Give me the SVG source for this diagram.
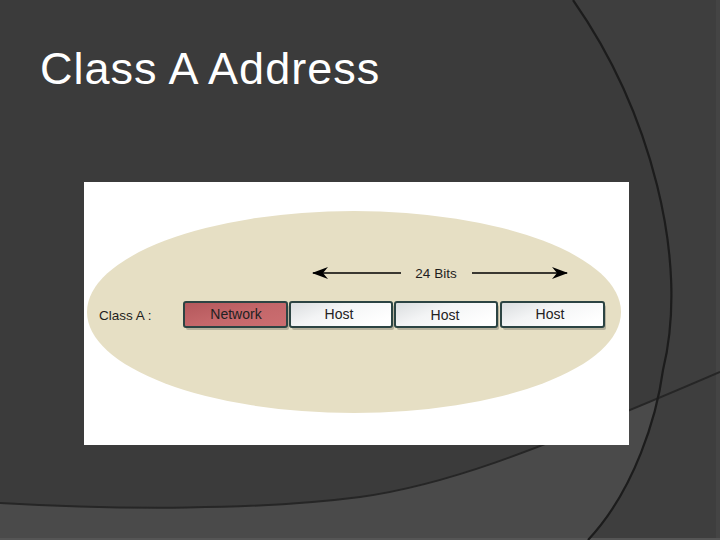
<svg xmlns="http://www.w3.org/2000/svg" width="720" height="540" viewBox="0 0 720 540">
<style>
.title{font-family:"Liberation Sans",Arial,sans-serif;font-size:45px;letter-spacing:1px;fill:#ffffff}
.lbl{font-family:"Liberation Sans",Arial,sans-serif;font-size:13.5px;fill:#1e1e1e}
.box{font-family:"Liberation Sans",Arial,sans-serif;font-size:14px;fill:#222}
.bx{stroke:#2c4443;stroke-width:2}
.sh{fill:#7d7a6c;opacity:0.45}
.arr{stroke:#000;stroke-width:1.6;fill:none}
</style>
<defs>
<linearGradient id="gNet" x1="0" y1="0" x2="1" y2="1">
<stop offset="0" stop-color="#b3575b"/>
<stop offset="0.5" stop-color="#c4676a"/>
<stop offset="1" stop-color="#cc6e71"/>
</linearGradient>
<linearGradient id="gHost" x1="0" y1="0" x2="1" y2="0.6">
<stop offset="0" stop-color="#d9dcde"/>
<stop offset="0.45" stop-color="#f3f4f5"/>
<stop offset="1" stop-color="#ffffff"/>
</linearGradient>
<marker id="ah" viewBox="0 0 16 12" markerWidth="16" markerHeight="12" refX="15" refY="6" orient="auto-start-reverse" markerUnits="userSpaceOnUse">
<path d="M0,0 L16,6 L0,12 L5,6 Z" fill="#000"/>
</marker>
</defs>
<!-- background -->
<rect x="0" y="0" width="720" height="540" fill="#3b3b3b"/>
<path d="M0,503 C120,510 260,510 360,497 C440,486 520,458 720,372 L720,540 L0,540 Z" fill="#4a4a4a"/>
<path d="M573,0 C650,110 690,260 663,370 C657,415 635,490 588,540 L720,540 L720,0 Z" fill="#3e3e3e"/>
<rect x="716" y="0" width="4" height="540" fill="#444"/>
<rect x="0" y="538" width="720" height="2" fill="#555"/>
<path d="M0,503 C120,510 260,510 360,497 C440,486 520,458 720,372" fill="none" stroke="#262626" stroke-width="2"/>
<path d="M573,0 C650,110 690,260 663,370 C657,415 635,490 588,540" fill="none" stroke="#1c1c1c" stroke-width="2.2"/>
<text class="title" x="40" y="84">Class A Address</text>
<!-- picture -->
<g id="picture">
<rect x="84" y="182" width="545" height="263" fill="#ffffff"/>
<ellipse cx="354" cy="312" rx="267" ry="101" fill="#e6dfc4"/>
</g>
<g id="label-classA">
<text class="lbl" x="99" y="320">Class A :</text>
</g>
<g id="label-bits">
<text class="lbl" x="436" y="278" text-anchor="middle">24 Bits</text>
</g>
<g id="network">
<rect class="sh" x="186" y="305" width="103" height="25" rx="2"/>
<rect class="bx" x="184" y="302" width="103" height="25" rx="2" fill="url(#gNet)"/>
<text class="box" x="236" y="318.5" text-anchor="middle" font-size="12.5" fill="#3a1616">Network</text>
</g>
<g id="host1">
<rect class="sh" x="292" y="305" width="102" height="25" rx="2"/>
<rect class="bx" x="290" y="302" width="102" height="25" rx="2" fill="url(#gHost)"/>
<text class="box" x="339" y="319" text-anchor="middle">Host</text>
</g>
<g id="host2">
<rect class="sh" x="397" y="305" width="102" height="25" rx="2"/>
<rect class="bx" x="395" y="302" width="102" height="25" rx="2" fill="url(#gHost)"/>
<text class="box" x="445" y="320" text-anchor="middle">Host</text>
</g>
<g id="host3">
<rect class="sh" x="503" y="305" width="103" height="25" rx="2"/>
<rect class="bx" x="501" y="302" width="103" height="25" rx="2" fill="url(#gHost)"/>
<text class="box" x="550" y="319" text-anchor="middle">Host</text>
</g>
<g id="connectors">
<line class="arr" x1="401" y1="273" x2="313" y2="273" marker-end="url(#ah)"/>
<line class="arr" x1="472" y1="273" x2="567" y2="273" marker-end="url(#ah)"/>
</g>
</svg>
